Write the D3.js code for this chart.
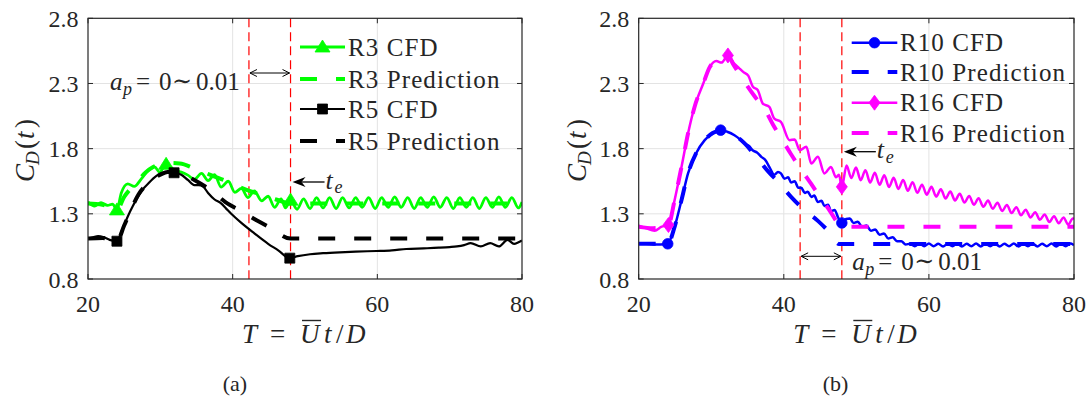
<!DOCTYPE html>
<html>
<head>
<meta charset="utf-8">
<script src="https://cdn.jsdelivr.net/npm/d3@7"></script>
<style>
  html, body { margin: 0; padding: 0; background: #fff; }
  svg { display: block; }
</style>
</head>
<body>
<svg id="chart" width="1088" height="399" font-family="'Liberation Serif', 'Times New Roman', 'Nimbus Roman', 'DejaVu Serif', serif"></svg>
<script>
// ---- axis ticks ----
const xTicks = [20, 40, 60, 80];
const yTicks = [0.8, 1.3, 1.8, 2.3, 2.8];
const gridX = [40, 60];
const gridY = [1.3, 1.8, 2.3];

// ---- window of the ramp-down: a_p = 0 ~ 0.01, ending at t_e ----
const bandStart = 42.25;
const tE = 48;

// ---- drag coefficient histories [T, C_D] ----
const r3Cfd = [[20,1.39],[20.9,1.36],[21.8,1.385],[22.7,1.365],[23.4,1.375],[24,1.33],[24.6,1.46],[25.5,1.53],[26.4,1.51],[27.4,1.57],[28.3,1.63],[29.2,1.66],[29.9,1.62],[30.8,1.68],[32,1.635],[32.9,1.62],[33.8,1.597],[34.7,1.565],[35.7,1.61],[36.6,1.555],[37.5,1.60],[38.4,1.505],[39.4,1.55],[40.3,1.465],[41.2,1.495],[42.1,1.425],[43.0,1.475],[44.0,1.40],[44.9,1.435],[45.8,1.35],[46.7,1.415],[47.3,1.345],[48,1.405],[48.9,1.335],[49.8,1.415],[50.7,1.34],[51.6,1.425],[52.5,1.345],[53.4,1.425],[54.3,1.34],[55.2,1.425],[56.1,1.345],[57.0,1.425],[57.9,1.35],[58.8,1.425],[59.7,1.34],[60.6,1.425],[61.5,1.35],[62.4,1.43],[63.3,1.35],[64.2,1.425],[65.1,1.34],[66.0,1.425],[66.9,1.35],[67.8,1.43],[68.7,1.35],[69.6,1.425],[70.5,1.34],[71.4,1.425],[72.3,1.35],[73.2,1.425],[74.1,1.34],[75.0,1.425],[75.9,1.35],[76.8,1.43],[77.7,1.35],[78.6,1.425],[79.5,1.345],[80,1.39]];
const r3CfdMarks = [24, 30.8, 48];
const r3Pred = [[20,1.38],[22,1.37],[24,1.33],[25,1.43],[26,1.50],[27,1.56],[28,1.62],[29,1.66],[30,1.68],[31,1.69],[32.7,1.687],[34.7,1.648],[37,1.597],[39.4,1.546],[42.1,1.48],[44.2,1.444],[46,1.41],[48,1.38],[80,1.38]];

const r5Cfd = [[20,1.11],[20.7,1.12],[21.4,1.13],[22.2,1.12],[23,1.10],[24,1.09],[24.6,1.16],[25.5,1.28],[26.2,1.36],[26.9,1.43],[27.6,1.49],[28.3,1.53],[29,1.57],[29.7,1.60],[30.6,1.62],[31.9,1.615],[32.9,1.60],[33.8,1.56],[34.7,1.52],[35.3,1.52],[35.9,1.51],[36.6,1.46],[37.5,1.41],[38.4,1.38],[39.1,1.34],[39.8,1.30],[41.2,1.23],[43.0,1.15],[44.9,1.07],[46.3,1.02],[47.9,0.96],[49,0.975],[50.7,0.99],[52.5,0.998],[54.8,1.005],[57,1.01],[59.9,1.015],[62,1.02],[64,1.03],[66.4,1.035],[68.5,1.04],[70,1.045],[71,1.05],[72,1.06],[72.9,1.075],[74.3,1.05],[75.6,1.075],[76.8,1.05],[78,1.10],[78.9,1.07],[80,1.095]];
const r5CfdMarks = [24, 31.9, 47.9];
const r5Pred = [[20,1.11],[22,1.115],[24,1.09],[25,1.21],[26,1.34],[27,1.45],[28,1.52],[29,1.57],[30,1.60],[31,1.62],[32,1.62],[35,1.55],[37,1.48],[39,1.39],[41.2,1.32],[43.3,1.25],[45.3,1.19],[48,1.11],[80,1.11]];

const r10Cfd = [[20,1.07],[21,1.07],[22,1.065],[23,1.065],[24,1.07],[24.95,1.20],[25.9,1.405],[26.8,1.61],[27.9,1.763],[29.1,1.865],[30.2,1.916],[31.3,1.942],[32.2,1.93],[33.2,1.903],[34.0,1.87],[34.6,1.84],[35.2,1.82],[35.7,1.788],[36.3,1.77],[36.9,1.737],[37.5,1.71],[38.0,1.66],[38.7,1.60],[39.2,1.62],[39.6,1.61],[40.1,1.57],[40.6,1.58],[41.0,1.54],[41.5,1.55],[42.0,1.50],[42.4,1.50],[42.9,1.46],[43.3,1.47],[43.8,1.43],[44.2,1.44],[44.7,1.39],[45.2,1.40],[45.6,1.36],[46.1,1.37],[46.5,1.32],[47,1.33],[47.5,1.27],[48,1.23],[48.6,1.26],[49.1,1.265],[49.6,1.23],[50.2,1.24],[50.8,1.20],[51.4,1.21],[52,1.17],[52.6,1.18],[53.2,1.14],[53.8,1.15],[54.4,1.11],[55.0,1.12],[55.6,1.09],[56.2,1.09],[56.8,1.065],[57.4,1.07],[58.05,1.052],[58.7,1.072],[59.35,1.052],[60.0,1.072],[60.65,1.052],[61.3,1.07],[61.95,1.05],[62.6,1.07],[63.25,1.052],[63.9,1.072],[64.55,1.05],[65.2,1.07],[65.85,1.052],[66.5,1.072],[67.15,1.05],[67.8,1.07],[68.45,1.052],[69.1,1.072],[69.75,1.05],[70.4,1.07],[71.05,1.052],[71.7,1.072],[72.35,1.05],[73.0,1.07],[73.65,1.052],[74.3,1.072],[74.95,1.05],[75.6,1.07],[76.25,1.052],[76.9,1.072],[77.55,1.05],[78.2,1.07],[78.85,1.052],[79.5,1.072],[80,1.06]];
const r10CfdMarks = [24, 31.3, 48];
const r10Pred = [[20,1.07],[24,1.07],[24.95,1.20],[25.9,1.405],[26.8,1.61],[27.9,1.763],[29.1,1.865],[30.2,1.92],[31.3,1.94],[33,1.91],[34.6,1.84],[36,1.75],[37.9,1.622],[39.2,1.546],[41,1.43],[42.6,1.341],[44.7,1.246],[46.3,1.157],[47.6,1.068],[80,1.068]];

const r16Cfd = [[20,1.21],[21,1.19],[22.2,1.17],[23.1,1.20],[24.1,1.214],[24.95,1.405],[25.9,1.66],[26.8,1.916],[27.7,2.12],[28.9,2.30],[29.8,2.427],[30.7,2.473],[31.4,2.46],[32.3,2.515],[33.2,2.45],[33.8,2.42],[34.4,2.389],[35.1,2.36],[35.75,2.274],[36.4,2.25],[37.1,2.146],[38.0,2.12],[38.7,2.03],[39.6,2.005],[40.8,1.865],[41.5,1.87],[42.2,1.788],[43.1,1.814],[43.8,1.686],[44.7,1.737],[45.6,1.61],[46.5,1.66],[47.2,1.58],[47.6,1.60],[48,1.507],[48.65,1.67],[49.3,1.575],[49.95,1.655],[50.6,1.558],[51.25,1.635],[51.9,1.54],[52.55,1.616],[53.2,1.523],[53.85,1.596],[54.5,1.506],[55.15,1.577],[55.8,1.491],[56.45,1.56],[57.1,1.477],[57.75,1.543],[58.4,1.461],[59.05,1.524],[59.7,1.447],[60.35,1.507],[61.0,1.432],[61.65,1.489],[62.3,1.417],[62.95,1.471],[63.6,1.402],[64.25,1.454],[64.9,1.386],[65.55,1.437],[66.2,1.37],[66.85,1.42],[67.5,1.354],[68.15,1.402],[68.8,1.339],[69.45,1.385],[70.1,1.322],[70.75,1.368],[71.4,1.306],[72.05,1.351],[72.7,1.289],[73.35,1.332],[74.0,1.272],[74.65,1.313],[75.3,1.254],[75.95,1.295],[76.6,1.237],[77.25,1.282],[77.9,1.228],[78.55,1.272],[79.2,1.218],[79.85,1.265],[80,1.26]];
const r16CfdMarks = [24.1, 32.3, 48];
const r16Pred = [[20,1.20],[22,1.19],[24.1,1.214],[24.95,1.405],[25.9,1.66],[26.8,1.916],[27.7,2.12],[28.9,2.30],[29.8,2.427],[30.7,2.473],[31.4,2.49],[32.3,2.515],[33,2.45],[34.5,2.32],[36,2.20],[37.4,2.10],[38.5,1.985],[39.65,1.88],[41,1.757],[42.2,1.655],[43.8,1.527],[44.9,1.437],[46.5,1.31],[47.4,1.233],[48,1.20],[80,1.20]];

// ---- legend labels ----
const legendLeft = ["R3 CFD", "R3 Prediction", "R5 CFD", "R5 Prediction"];
const legendRight = ["R10 CFD", "R10 Prediction", "R16 CFD", "R16 Prediction"];

const GREEN = "#00ff00", BLUE = "#0000ff", MAGENTA = "#ff00ff", RED = "#ff0000", AX = "#262626";
const SERIF = "'Liberation Serif', 'Times New Roman', 'Nimbus Roman', 'DejaVu Serif', serif";

const svg = d3.select("#chart");

// text helper: every label carries its own serif family
function label(sel, x, y, str, size, opts = {}) {
  const t = sel.append("text")
    .attr("x", x).attr("y", y)
    .attr("font-family", opts.family || SERIF)
    .attr("font-size", size)
    .attr("font-style", opts.italic ? "italic" : "normal")
    .attr("fill", opts.fill || AX)
    .text(str);
  if (opts.anchor) t.attr("text-anchor", opts.anchor);
  if (opts.spacing) t.attr("letter-spacing", opts.spacing);
  return t;
}

// marker outlines, centred on (0,0)
const markerPath = {
  triangle: "M0,-7 L7.5,5 L-7.5,5 Z",
  square: "M-5,-5 H5 V5 H-5 Z",
  circle: d3.symbol(d3.symbolCircle, 88)(),
  diamond: "M0,-7.5 L5.5,0 L0,7.5 L-5.5,0 Z"
};

const panels = [
  {
    id: "a", left: 88, right: 522, top: 18.3, bottom: 279,
    series: [
      { data: r3Cfd, color: GREEN, width: 2.8, marker: "triangle", marks: r3CfdMarks },
      { data: r3Pred, color: GREEN, width: 4, dash: "17,19" },
      { data: r5Cfd, color: "#000", width: 2.2, marker: "square", marks: r5CfdMarks },
      { data: r5Pred, color: "#000", width: 4, dash: "17,19" }
    ],
    labels: legendLeft,
    legend: { x0: 300, x1: 345, tx: 348, rows: [47, 79, 109, 141] },
    yLabelX: 34, xLabelCenter: 305, caption: "(a)", captionX: 235,
    band: { y: 73 }, apLabel: { x: 110, y: 90 }, te: { y: 182 }
  },
  {
    id: "b", left: 638.7, right: 1074, top: 18.3, bottom: 279,
    series: [
      { data: r10Cfd, color: BLUE, width: 2.5, marker: "circle", marks: r10CfdMarks },
      { data: r10Pred, color: BLUE, width: 4, dash: "17,19" },
      { data: r16Cfd, color: MAGENTA, width: 2.5, marker: "diamond", marks: r16CfdMarks },
      { data: r16Pred, color: MAGENTA, width: 4, dash: "17,19" }
    ],
    labels: legendRight,
    legend: { x0: 851.7, x1: 897.3, tx: 900, rows: [42.7, 72, 102.7, 133] },
    yLabelX: 586, xLabelCenter: 856.3, caption: "(b)", captionX: 835.5,
    band: { y: 256.3 }, apLabel: { x: 852.3, y: 269.5 }, te: { y: 151.7 }
  }
];

panels.forEach(p => {
  const x = d3.scaleLinear().domain([20, 80]).range([p.left, p.right]);
  const y = d3.scaleLinear().domain([0.8, 2.8]).range([p.bottom, p.top]);
  const g = svg.append("g").attr("class", "panel-" + p.id);

  const clipId = "clip-" + p.id;
  svg.append("defs").append("clipPath").attr("id", clipId)
    .append("rect").attr("x", p.left).attr("y", p.top)
    .attr("width", p.right - p.left).attr("height", p.bottom - p.top);

  // grid
  g.selectAll(".gx").data(gridX).join("line")
    .attr("x1", d => x(d)).attr("x2", d => x(d))
    .attr("y1", p.top).attr("y2", p.bottom)
    .attr("stroke", "#e3e3e3").attr("stroke-width", 1);
  g.selectAll(".gy").data(gridY).join("line")
    .attr("y1", d => y(d)).attr("y2", d => y(d))
    .attr("x1", p.left).attr("x2", p.right)
    .attr("stroke", "#e3e3e3").attr("stroke-width", 1);

  // ramp window boundaries
  g.selectAll(".vr").data([bandStart, tE]).join("line")
    .attr("x1", d => x(d)).attr("x2", d => x(d))
    .attr("y1", p.top).attr("y2", p.bottom)
    .attr("stroke", RED).attr("stroke-width", 1.2)
    .attr("stroke-dasharray", "9,5");

  // series
  const plot = g.append("g").attr("clip-path", `url(#${clipId})`);
  const line = d3.line().x(d => x(d[0])).y(d => y(d[1])).curve(d3.curveMonotoneX);
  p.series.forEach(s => {
    plot.append("path").datum(s.data)
      .attr("d", line).attr("fill", "none")
      .attr("stroke", s.color).attr("stroke-width", s.width)
      .attr("stroke-linejoin", "round")
      .attr("stroke-dasharray", s.dash || null);
    if (s.marker) {
      const pts = s.data.filter(d => s.marks.includes(d[0]));
      plot.selectAll(null).data(pts).join("path")
        .attr("d", markerPath[s.marker])
        .attr("transform", d => `translate(${x(d[0])},${y(d[1])})`)
        .attr("fill", s.color).attr("stroke", s.color).attr("stroke-width", 0.8);
    }
  });

  // axes box and ticks
  const ax = g.append("g");
  ax.append("rect").attr("x", p.left).attr("y", p.top)
    .attr("width", p.right - p.left).attr("height", p.bottom - p.top)
    .attr("fill", "none").attr("stroke", AX).attr("stroke-width", 1.2);
  const tl = 5;
  xTicks.forEach(t => {
    ax.append("line").attr("x1", x(t)).attr("x2", x(t)).attr("y1", p.bottom).attr("y2", p.bottom - tl).attr("stroke", AX);
    ax.append("line").attr("x1", x(t)).attr("x2", x(t)).attr("y1", p.top).attr("y2", p.top + tl).attr("stroke", AX);
    label(ax, x(t), 311.5, t, 24, { anchor: "middle" });
  });
  yTicks.forEach(t => {
    ax.append("line").attr("y1", y(t)).attr("y2", y(t)).attr("x1", p.left).attr("x2", p.left + tl).attr("stroke", AX);
    ax.append("line").attr("y1", y(t)).attr("y2", y(t)).attr("x1", p.right).attr("x2", p.right - tl).attr("stroke", AX);
    label(ax, p.left - 9.5, y(t) + 8.5, t.toFixed(1), 24, { anchor: "end" });
  });

  // y label C_D(t), rotated
  const yl = g.append("g").attr("transform", `translate(${p.yLabelX},182) rotate(-90)`);
  [
    { s: "C", dx: 0, it: true, fs: 27, dy: 0 },
    { s: "D", dx: 17, it: true, fs: 19, dy: 5 },
    { s: "(", dx: 33, it: false, fs: 27, dy: 0 },
    { s: "t", dx: 43, it: true, fs: 27, dy: 0 },
    { s: ")", dx: 54, it: false, fs: 27, dy: 0 }
  ].forEach(q => label(yl, q.dx, q.dy, q.s, q.fs, { italic: q.it }));

  // x label T = U t / D with overbar on U
  const xc = p.xLabelCenter, xb = 343;
  [
    { s: "T", o: -63, it: true },
    { s: "=", o: -35, it: false },
    { s: "U", o: -5, it: true },
    { s: "t", o: 19, it: true },
    { s: "/", o: 31, it: false },
    { s: "D", o: 41, it: true }
  ].forEach(q => label(g, xc + q.o, xb, q.s, 27, { italic: q.it }));
  g.append("line").attr("x1", xc - 3).attr("x2", xc + 16)
    .attr("y1", 320.5).attr("y2", 320.5).attr("stroke", AX).attr("stroke-width", 1.4);

  // caption
  label(g, p.captionX, 391, p.caption, 22, { anchor: "middle" });

  // double arrow across the ramp window
  const bx0 = x(bandStart) + 1, bx1 = x(tE) - 1, by = p.band.y;
  g.append("line").attr("x1", bx0).attr("x2", bx1).attr("y1", by).attr("y2", by)
    .attr("stroke", "#000").attr("stroke-width", 1);
  g.append("path").attr("d", `M${bx0 + 7},${by - 3.5} L${bx0},${by} L${bx0 + 7},${by + 3.5}`)
    .attr("fill", "none").attr("stroke", "#000").attr("stroke-width", 1);
  g.append("path").attr("d", `M${bx1 - 7},${by - 3.5} L${bx1},${by} L${bx1 - 7},${by + 3.5}`)
    .attr("fill", "none").attr("stroke", "#000").attr("stroke-width", 1);

  // a_p = 0 ~ 0.01
  const ap = p.apLabel;
  [
    { s: "a", o: 0, it: true, fs: 25, dy: 0 },
    { s: "p", o: 13, it: true, fs: 18, dy: 5 },
    { s: "=", o: 26, it: false, fs: 25, dy: 0 },
    { s: "0", o: 49, it: false, fs: 25, dy: 0 },
    { s: "\u223C", o: 62, it: false, fs: 24, dy: -1, fam: "'DejaVu Serif', serif" },
    { s: "0.01", o: 86, it: false, fs: 25, dy: 0 }
  ].forEach(q => label(g, ap.x + q.o, ap.y + q.dy, q.s, q.fs, { italic: q.it, family: q.fam }));

  // arrow pointing to t_e
  const hx = x(tE) + 2, ty = p.te.y;
  g.append("path").attr("d", `M${hx},${ty} L${hx + 13},${ty - 5} L${hx + 9},${ty} L${hx + 13},${ty + 5} Z`)
    .attr("fill", "#000");
  g.append("line").attr("x1", hx + 9).attr("x2", hx + 32).attr("y1", ty).attr("y2", ty)
    .attr("stroke", "#000").attr("stroke-width", 1.3);
  label(g, hx + 33, ty + 6.5, "t", 26, { italic: true });
  label(g, hx + 42, ty + 11, "e", 18, { italic: true });

  // legend
  const L = p.legend;
  p.series.forEach((s, i) => {
    const ry = L.rows[i];
    g.append("line").attr("x1", L.x0).attr("x2", L.x1).attr("y1", ry).attr("y2", ry)
      .attr("stroke", s.color).attr("stroke-width", s.width)
      .attr("stroke-dasharray", s.dash || null);
    if (s.marker) {
      g.append("path").attr("d", markerPath[s.marker])
        .attr("transform", `translate(${(L.x0 + L.x1) / 2},${ry})`)
        .attr("fill", s.color).attr("stroke", s.color).attr("stroke-width", 0.8);
    }
    label(g, L.tx, ry + 8.5, p.labels[i], 25, { spacing: 1.1 });
  });
});
</script>
</body>
</html>
